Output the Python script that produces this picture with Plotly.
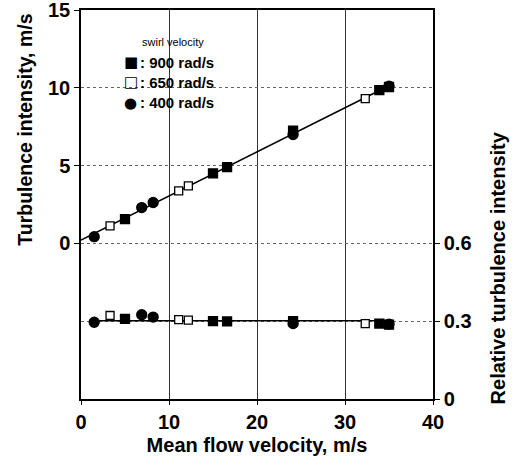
import numpy as np
import plotly.graph_objects as go

# ---- data ----
x_900 = [5.0, 15.0, 16.6, 24.1, 33.9, 35.0]
ti_900 = [1.56, 4.5, 4.9, 7.25, 9.85, 10.05]
rel_900 = [0.309, 0.300, 0.299, 0.300, 0.291, 0.287]

x_650 = [3.3, 11.1, 12.2, 32.3]
ti_650 = [1.13, 3.38, 3.70, 9.30]
rel_650 = [0.322, 0.306, 0.304, 0.291]

x_400 = [1.5, 6.9, 8.2, 24.1, 35.0]
ti_400 = [0.43, 2.30, 2.63, 7.00, 10.10]
rel_400 = [0.296, 0.325, 0.316, 0.291, 0.289]

upper_fit_span = [0.0, 35.5]
lower_fit_span = [1.0, 35.5]

x_ticks = [0, 10, 20, 30, 40]
left_ticks = [0, 5, 10, 15]
right_ticks = [0, 0.3, 0.6]

legend_title = "swirl velocity"
legend_symbols = ["■", "□", "●"]
legend_labels = [": 900 rad/s", ": 650 rad/s", ": 400 rad/s"]

# ---- fits ----
all_x = np.array(x_900 + x_650 + x_400)
all_ti = np.array(ti_900 + ti_650 + ti_400)
all_rel = np.array(rel_900 + rel_650 + rel_400)
pu = np.polyfit(all_x, all_ti, 1)
rel_mean = float(np.mean(all_rel))
fu_x = np.array(upper_fit_span)
fl_x = np.array(lower_fit_span)

FONT = "Liberation Sans"
fig = go.Figure()

fig.add_trace(go.Scatter(x=fu_x, y=np.polyval(pu, fu_x), mode="lines",
                         line=dict(color="black", width=1.6), showlegend=False))
fig.add_trace(go.Scatter(x=fl_x, y=[rel_mean, rel_mean], mode="lines", yaxis="y2",
                         line=dict(color="black", width=1.6), showlegend=False))

def add_series(xs, ti, rel, symbol, fill, size):
    mk = dict(symbol=symbol, size=size, color=fill, line=dict(color="black", width=1.3))
    fig.add_trace(go.Scatter(x=xs, y=ti, mode="markers", marker=mk, showlegend=False))
    fig.add_trace(go.Scatter(x=xs, y=rel, mode="markers", marker=mk, yaxis="y2", showlegend=False))

add_series(x_900, ti_900, rel_900, "square", "black", 9)
add_series(x_650, ti_650, rel_650, "square", "white", 8)
add_series(x_400, ti_400, rel_400, "circle", "black", 10)

tickfont = dict(family=FONT, size=20, color="black", weight="bold")
titlefont = dict(family=FONT, size=20, color="black", weight="bold")

fig.update_layout(
    width=512, height=458,
    margin=dict(l=81, r=79, t=10, b=59),
    paper_bgcolor="white", plot_bgcolor="white",
    xaxis=dict(range=[0, 40], tickvals=x_ticks, tickfont=tickfont, automargin=False,
               ticklabeloverflow="allow",
               title=dict(text="Mean flow velocity, m/s", font=titlefont, standoff=6),
               showline=True, linecolor="black", linewidth=1.5, mirror=True,
               ticks="outside", ticklen=4, tickcolor="black",
               showgrid=True, gridcolor="#333", gridwidth=0.8, zeroline=False),
    yaxis=dict(range=[-10, 15], tickvals=left_ticks, tickfont=tickfont, automargin=False,
               ticklabeloverflow="allow",
               showline=True, linecolor="black", linewidth=1.5,
               ticks="outside", ticklen=5, tickcolor="black",
               showgrid=True, gridcolor="#666", gridwidth=1, griddash="dot",
               zeroline=False),
    yaxis2=dict(range=[0, 1.5], tickvals=right_ticks, ticktext=["0", "0.3", "0.6"],
                tickfont=tickfont, overlaying="y", side="right", automargin=False,
                ticklabeloverflow="allow",
                showline=True, linecolor="black", linewidth=1.5,
                ticks="outside", ticklen=5, tickcolor="black",
                showgrid=True, gridcolor="#666", gridwidth=1, griddash="dot",
                zeroline=False),
    showlegend=False,
)

# y-axis titles (positioned along their own portion of the frame)
fig.add_annotation(xref="paper", yref="paper", x=-0.16, y=0.6915,
                   text="Turbulence intensity, m/s", textangle=-90, showarrow=False,
                   xanchor="center", yanchor="middle",
                   font=dict(family="Liberation Sans Narrow, Liberation Sans", size=19.5,
                             color="black", weight="bold"))
fig.add_annotation(xref="paper", yref="paper", x=1.185, y=0.336,
                   text="Relative turbulence intensity", textangle=-90, showarrow=False,
                   xanchor="center", yanchor="middle", font=titlefont)

fig.add_annotation(xref="paper", yref="paper", x=0.262, y=0.918, text=legend_title,
                   showarrow=False, xanchor="center", yanchor="middle",
                   font=dict(family=FONT, size=11, color="black"))
for i, (sym, lab) in enumerate(zip(legend_symbols, legend_labels)):
    yy = 0.866 - i * 0.052
    fig.add_annotation(xref="paper", yref="paper", x=0.142, y=yy,
                       text=sym, showarrow=False, xanchor="center", yanchor="middle",
                       font=dict(family="DejaVu Sans", size=15, color="black"))
    fig.add_annotation(xref="paper", yref="paper", x=0.163, y=yy,
                       text=lab, showarrow=False, xanchor="left", yanchor="middle",
                       font=dict(family=FONT, size=15, color="black", weight="bold"))

fig.write_html("out.html")
